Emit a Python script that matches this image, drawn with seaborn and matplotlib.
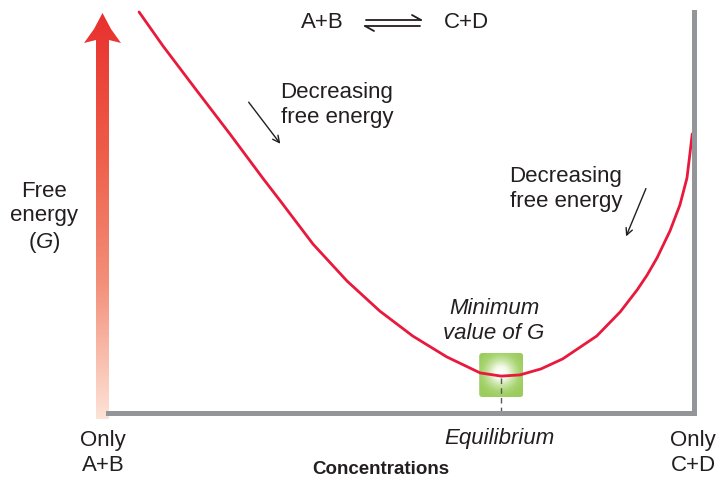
import numpy as np
import seaborn as sns
import matplotlib.pyplot as plt
import pandas as pd
from matplotlib.patches import Polygon, FancyBboxPatch
from matplotlib.colors import LinearSegmentedColormap

# Free energy curve
# x: fraction of C+D (0 = only A+B, 1 = only C+D), G: free energy (relative)
conc = [0.053, 0.094, 0.152, 0.208, 0.265, 0.294, 0.350, 0.408, 0.464, 0.520,
        0.578, 0.635, 0.671, 0.703, 0.739, 0.776, 0.834, 0.874, 0.903, 0.920,
        0.937, 0.959, 0.976, 0.988, 0.993, 0.997]
free_energy = [1.000, 0.915, 0.803, 0.696, 0.584, 0.529, 0.421, 0.329, 0.254, 0.192,
               0.140, 0.100, 0.092, 0.095, 0.110, 0.135, 0.192, 0.252, 0.307, 0.344,
               0.387, 0.454, 0.519, 0.586, 0.646, 0.696]
eq_conc = 0.671

df = pd.DataFrame({"conc": conc, "G": free_energy})

sns.set_theme(style="white")
plt.rcParams["font.family"] = ["Liberation Sans", "DejaVu Sans"]
plt.rcParams["mathtext.fontset"] = "custom"
plt.rcParams["mathtext.it"] = "Liberation Sans:italic"
plt.rcParams["mathtext.rm"] = "Liberation Sans"

W, H = 721, 481
fig = plt.figure(figsize=(W / 100, H / 100), dpi=100)
ink = "#231f20"
gray = "#939598"

# overlay axes in pixel units for the decorations
deco = fig.add_axes([0, 0, 1, 1], zorder=0)
deco.set_xlim(0, W)
deco.set_ylim(H, 0)
deco.axis("off")

# main axes = the plot frame
x0, x1, ytop, ybot = 108, 694, 13, 414
ax = fig.add_axes([x0 / W, (H - ybot) / H, (x1 - x0) / W, (ybot - ytop) / H], zorder=1)
ax.patch.set_alpha(0)
ax.set_xlim(0, 1)
ax.set_ylim(0, 1)
for s in ["left", "top"]:
    ax.spines[s].set_visible(False)
for s in ["bottom", "right"]:
    ax.spines[s].set_color(gray)
    ax.spines[s].set_linewidth(3.6)
ax.set_xticks([])
ax.set_yticks([])

# green highlight square at the minimum (drawn under the curve)
gx = x0 + eq_conc * (x1 - x0)
gy = 376
half = 22
yy, xx = np.mgrid[-1:1:100j, -1:1:100j]
rr = np.clip(np.sqrt(xx ** 2 + (yy + 0.1) ** 2) / 1.15, 0, 1)
green_cmap = LinearSegmentedColormap.from_list(
    "g", ["#ffffff", "#f4faec", "#c9e5a6", "#a8d471", "#9ccc5f"])
im = deco.imshow(rr, cmap=green_cmap, extent=(gx - half, gx + half, gy + half, gy - half),
                 origin="upper", vmin=0, vmax=1, zorder=1, aspect="auto")
box = FancyBboxPatch((gx - half + 3, gy - half + 3), 2 * half - 6, 2 * half - 6,
                     boxstyle="round,pad=3", fc="none", ec="none", transform=deco.transData)
deco.add_patch(box)
im.set_clip_path(box)

# dashed line down to the axis
deco.plot([gx, gx], [379, ybot], color="#58595b", lw=1, ls=(0, (4, 3)), zorder=2)

# curve
sns.lineplot(data=df, x="conc", y="G", ax=ax, color="#e8193c", lw=2, sort=False,
             estimator=None, clip_on=False, solid_joinstyle="round")
ax.set_xlabel("")
ax.set_ylabel("")

# gradient arrow for free energy
arrow_pts = [(96, 420), (96, 41), (84, 44), (94, 30), (102.5, 14), (111, 30),
             (121, 44), (109, 41), (109, 420)]
arr = Polygon(arrow_pts, closed=True, fc="none", ec="none", transform=deco.transData)
deco.add_patch(arr)
red_cmap = LinearSegmentedColormap.from_list("r", ["#e8302e", "#ee5c48", "#f3907a", "#fde3d7"])
grad = np.linspace(0, 1, 256).reshape(-1, 1)
im2 = deco.imshow(grad, cmap=red_cmap, extent=(84, 121, 420, 14), origin="upper",
                  aspect="auto", zorder=2)
im2.set_clip_path(arr)

# equilibrium harpoons
deco.plot([366, 421], [21, 21], color=ink, lw=1.3)
deco.plot([421, 412], [21, 16], color=ink, lw=1.3)
deco.plot([365, 420], [27, 27], color=ink, lw=1.3)
deco.plot([365, 374], [27, 32], color=ink, lw=1.3)

fs = 16
ls = 1.3
deco.text(322, 23, "A+B", fontsize=fs, color=ink, ha="center", va="center")
deco.text(466, 23, "C+D", fontsize=fs, color=ink, ha="center", va="center")

deco.text(337, 105, "Decreasing\nfree energy", fontsize=fs, color=ink, ha="center",
          va="center", linespacing=ls)
deco.annotate("", xy=(282, 147), xytext=(247, 101),
              arrowprops=dict(arrowstyle="->", color=ink, lw=1, mutation_scale=12))
deco.text(566, 189, "Decreasing\nfree energy", fontsize=fs, color=ink, ha="center",
          va="center", linespacing=ls)
deco.annotate("", xy=(625, 240), xytext=(647, 187),
              arrowprops=dict(arrowstyle="->", color=ink, lw=1, mutation_scale=12))

deco.text(44, 218, "Free\nenergy\n($\\it{G}$)", fontsize=fs, color=ink, ha="center",
          va="center", linespacing=1.2)

deco.text(494, 321, "Minimum\nvalue of G", fontsize=fs, color=ink, ha="center",
          va="center", style="italic", linespacing=ls)
deco.text(499, 439, "Equilibrium", fontsize=fs, color=ink, ha="center", va="center",
          style="italic")
deco.text(103, 453, "Only\nA+B", fontsize=fs, color=ink, ha="center", va="center",
          linespacing=ls)
deco.text(693, 453, "Only\nC+D", fontsize=fs, color=ink, ha="center", va="center",
          linespacing=ls)
deco.text(381, 470, "Concentrations", fontsize=13.5, color=ink, ha="center", va="center",
          fontweight="bold")

fig.savefig("out.png", dpi=100)
